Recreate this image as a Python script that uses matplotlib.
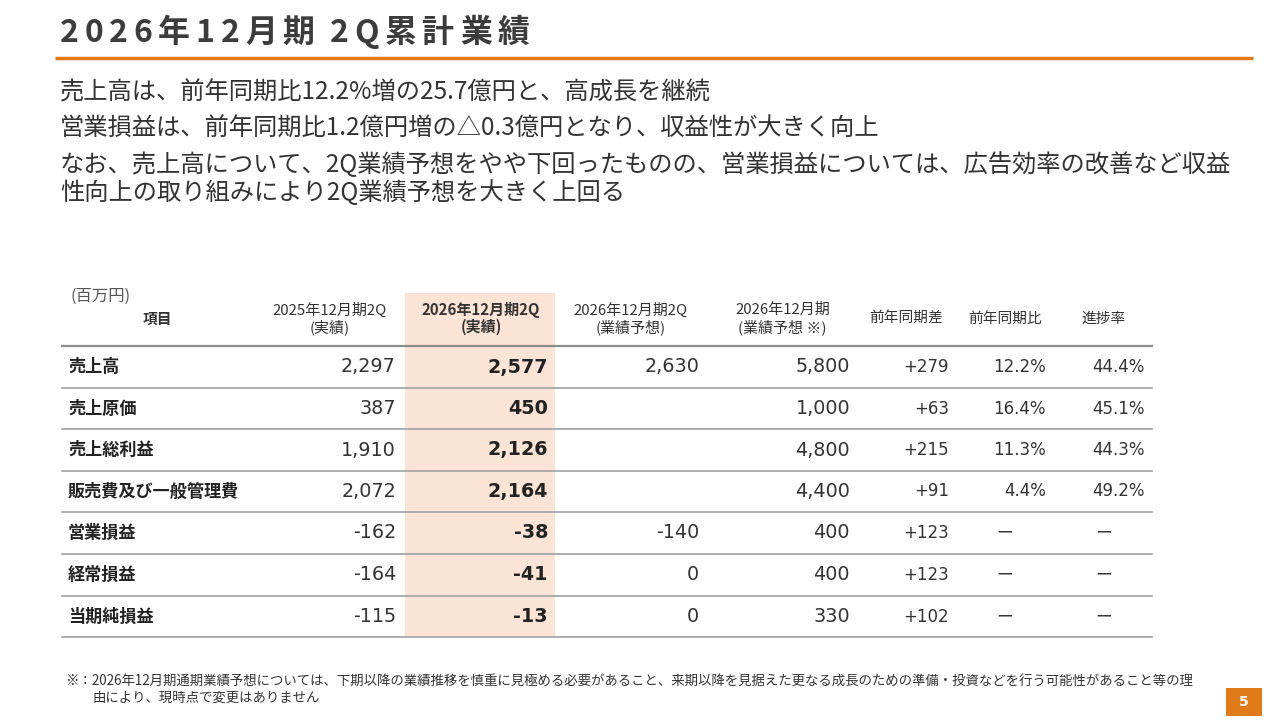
import matplotlib
matplotlib.use("Agg")
import matplotlib.pyplot as plt
from matplotlib.patches import Rectangle

plt.rcParams["font.family"] = ["Noto Sans CJK JP", "DejaVu Sans"]

JP = ["Noto Sans CJK JP", "DejaVu Sans"]
NUM = ["DejaVu Sans"]

TITLE = "2026年12月期 2Q累計業績"
BULLETS = [
    "売上高は、前年同期比12.2%増の25.7億円と、高成長を継続",
    "営業損益は、前年同期比1.2億円増の△0.3億円となり、収益性が大きく向上",
    "なお、売上高について、2Q業績予想をやや下回ったものの、営業損益については、広告効率の改善など収益",
    "性向上の取り組みにより2Q業績予想を大きく上回る",
]
UNIT = "(百万円)"
HEADERS = [
    ("項目", ""),
    ("2025年12月期2Q", "(実績)"),
    ("2026年12月期2Q", "(実績)"),
    ("2026年12月期2Q", "(業績予想)"),
    ("2026年12月期", "(業績予想 ※)"),
    ("前年同期差", ""),
    ("前年同期比", ""),
    ("進捗率", ""),
]
items = ["売上高", "売上原価", "売上総利益", "販売費及び一般管理費", "営業損益", "経常損益", "当期純損益"]
prev_2q = [2297, 387, 1910, 2072, -162, -164, -115]
cur_2q = [2577, 450, 2126, 2164, -38, -41, -13]
plan_2q = [2630, None, None, None, -140, 0, 0]
plan_fy = [5800, 1000, 4800, 4400, 400, 400, 330]
yoy_diff = [279, 63, 215, 91, 123, 123, 102]
yoy_ratio = [12.2, 16.4, 11.3, 4.4, None, None, None]
progress = [44.4, 45.1, 44.3, 49.2, None, None, None]
NOTE = [
    "※：2026年12月期通期業績予想については、下期以降の業績推移を慎重に見極める必要があること、来期以降を見据えた更なる成長のための準備・投資などを行う可能性があること等の理",
    "由により、現時点で変更はありません",
]
PAGE = "5"

TXT = "#333333"
ORANGE = "#E07B1A"
BAND = "#FBE3D5"
GRID = "#A0A0A0"

fig = plt.figure(figsize=(12.8, 7.2), dpi=100)
ax = fig.add_axes([0, 0, 1, 1])
ax.set_xlim(0, 1280)
ax.set_ylim(720, 0)
ax.axis("off")
r = fig.canvas.get_renderer()

# title with letter spacing
x = 60
for ch in TITLE:
    t = ax.text(x, 33, ch, fontsize=23, fontweight="bold", color="#3c3c3c",
                va="center", ha="left", family=JP)
    bb = t.get_window_extent(r)
    x += bb.width + (5.7 if ch != " " else 2)
ax.plot([55, 1253], [58, 58], color=ORANGE, lw=2.5, solid_capstyle="butt")

for y, line in zip([93, 129, 165, 193], BULLETS):
    ax.text(60, y, line, fontsize=17.5, color=TXT, va="center", ha="left", family=JP)

# table
row_y = [367, 408.5, 450, 491.5, 533, 575, 616.5]
lines_y = [346, 388, 429, 471, 512, 554, 596, 637]
ax.add_patch(Rectangle((405, 293), 150, 637 - 293, color=BAND, lw=0, zorder=0))
for i, ly in enumerate(lines_y):
    ax.plot([62, 1152], [ly, ly], color="#8c8c8c" if i == 0 else GRID,
            lw=1.6 if i == 0 else 1.2, zorder=1)

ax.text(70, 296, UNIT, fontsize=11.8, color="#555555", va="center", ha="left", family=JP)
head_x = [157, 329.5, 481, 630.5, 782.5, 906, 1005, 1104]
for j, (h1, h2) in enumerate(HEADERS):
    bold = j in (0, 2)
    if h2:
        ax.text(head_x[j], 310, h1, fontsize=10.8, color=TXT, va="center", ha="center",
                family=JP, fontweight="bold" if bold else "normal")
        ax.text(head_x[j], 327, h2, fontsize=10.8, color=TXT, va="center", ha="center",
                family=JP, fontweight="bold" if bold else "normal")
    else:
        ax.text(head_x[j], 319, h1, fontsize=10.6, color=TXT, va="center", ha="center",
                family=JP, fontweight="bold" if bold else "normal")


def fmt(v):
    return "" if v is None else f"{v:,}"


for i, yy in enumerate(row_y):
    ax.text(68, yy, items[i], fontsize=12.3, fontweight="bold", color="#222222",
            va="center", ha="left", family=JP)
    ax.text(396, yy, fmt(prev_2q[i]), fontsize=13.8, color=TXT, va="center", ha="right", family=NUM)
    ax.text(548, yy, fmt(cur_2q[i]), fontsize=13.8, fontweight="bold", color="#222222",
            va="center", ha="right", family=NUM)
    ax.text(699, yy, fmt(plan_2q[i]), fontsize=13.8, color=TXT, va="center", ha="right", family=NUM)
    ax.text(850, yy, fmt(plan_fy[i]), fontsize=13.8, color=TXT, va="center", ha="right", family=NUM)
    ax.text(949, yy, f"{yoy_diff[i]:+,}", fontsize=12, color=TXT, va="center", ha="right", family=NUM)
    if yoy_ratio[i] is None:
        ax.text(1005, yy, "ー", fontsize=12, color=TXT, va="center", ha="center", family=JP)
    else:
        ax.text(1046, yy, f"{yoy_ratio[i]:.1f}%", fontsize=12, color=TXT, va="center", ha="right", family=NUM)
    if progress[i] is None:
        ax.text(1104, yy, "ー", fontsize=12, color=TXT, va="center", ha="center", family=JP)
    else:
        ax.text(1145, yy, f"{progress[i]:.1f}%", fontsize=12, color=TXT, va="center", ha="right", family=NUM)

ax.text(65, 682, NOTE[0], fontsize=9.65, color=TXT, va="center", ha="left", family=JP)
ax.text(93, 698, NOTE[1], fontsize=9.65, color=TXT, va="center", ha="left", family=JP)

ax.add_patch(Rectangle((1226, 688), 36, 28, color=ORANGE, lw=0))
ax.text(1244, 702, PAGE, fontsize=10, fontweight="bold", color="white", va="center", ha="center", family=NUM)

fig.savefig("out.png", dpi=100)
